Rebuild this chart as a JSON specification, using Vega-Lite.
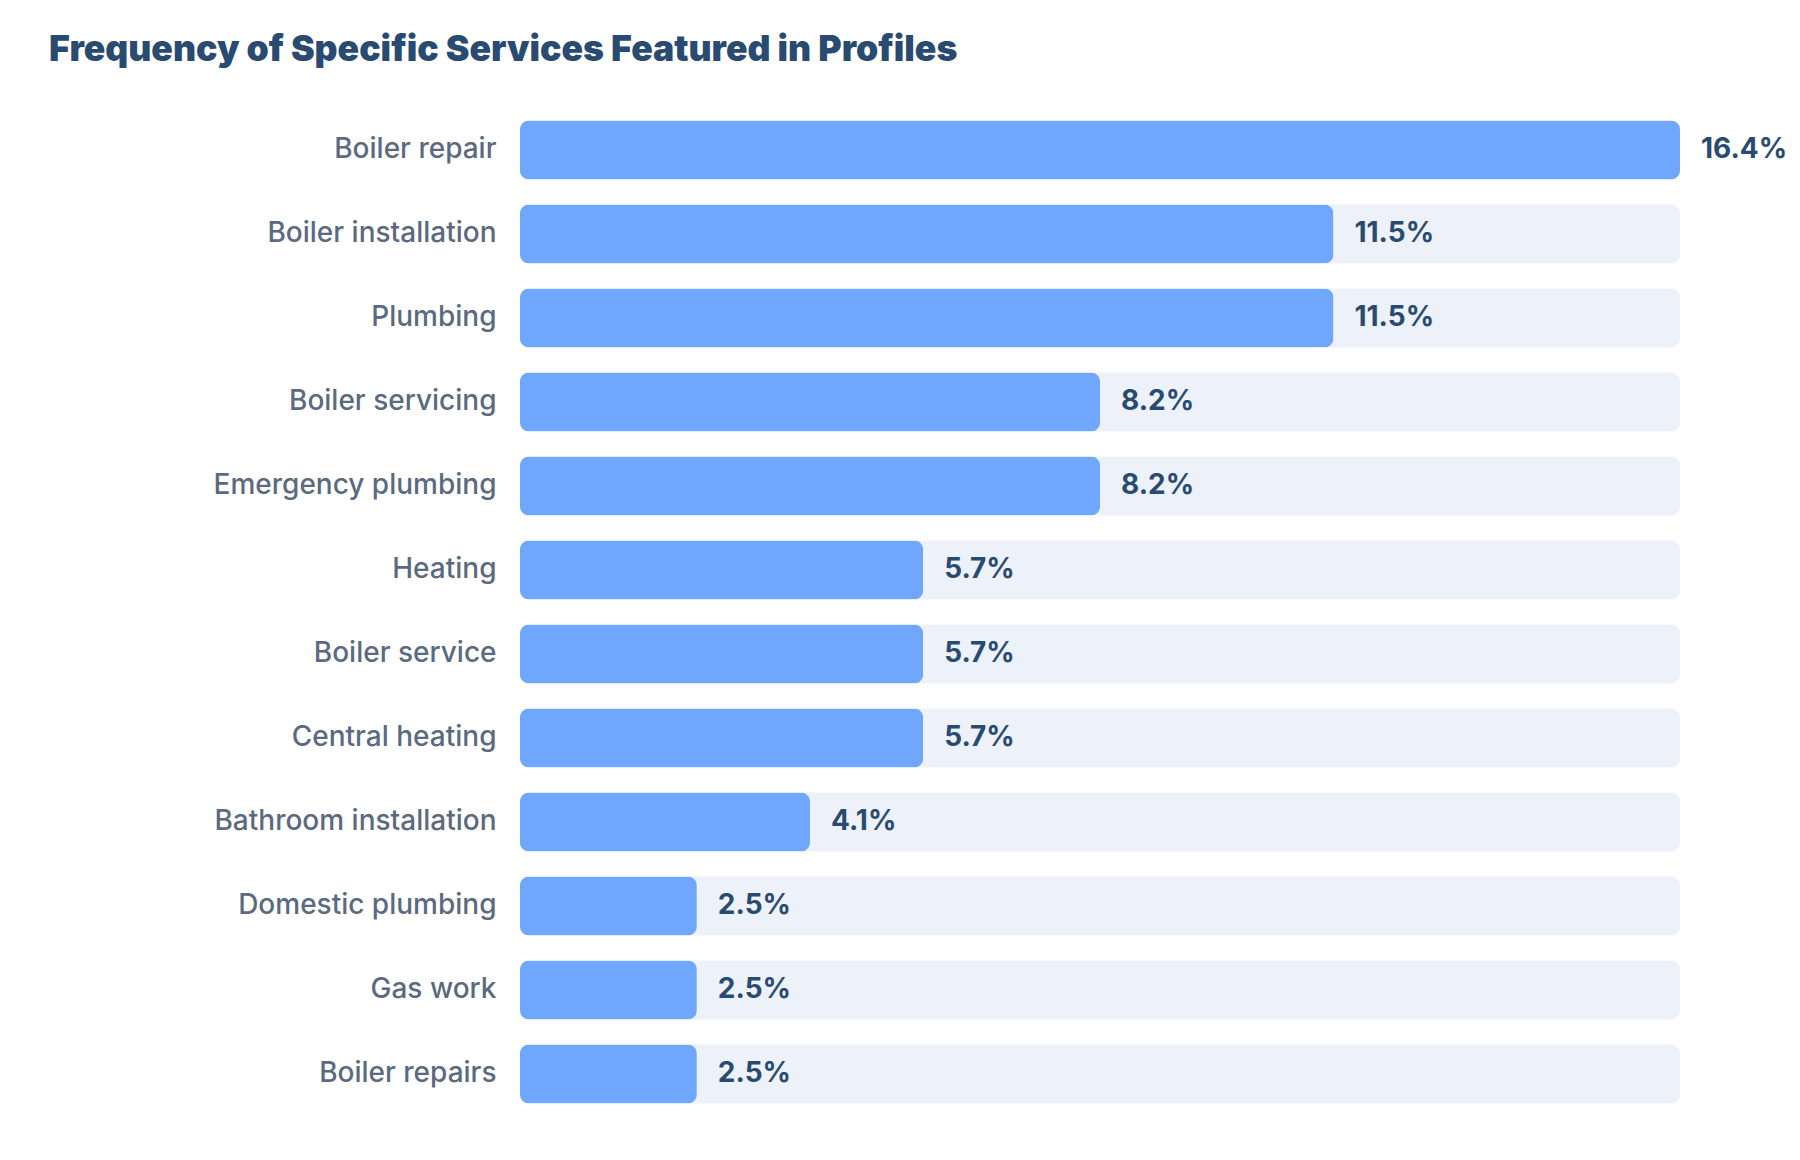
{
  "$schema": "https://vega.github.io/schema/vega-lite/v6.json",
  "autosize": {"type": "none"},
  "width": 1160,
  "height": 1008,
  "padding": {"left": 520, "top": 108, "right": 120, "bottom": 44},
  "background": "white",
  "config": {"view": {"stroke": null}, "font": "Inter"},
  "title": {
    "text": "Frequency of Specific Services Featured in Profiles",
    "anchor": "start",
    "frame": "group",
    "dx": -471,
    "offset": 39,
    "font": "Inter",
    "fontSize": 35.6,
    "fontWeight": 900,
    "color": "#2a4b71"
  },
  "data": {
    "values": [
      {"service": "Boiler repair", "share": 0.164},
      {"service": "Boiler installation", "share": 0.115},
      {"service": "Plumbing", "share": 0.115},
      {"service": "Boiler servicing", "share": 0.082},
      {"service": "Emergency plumbing", "share": 0.082},
      {"service": "Heating", "share": 0.057},
      {"service": "Boiler service", "share": 0.057},
      {"service": "Central heating", "share": 0.057},
      {"service": "Bathroom installation", "share": 0.041},
      {"service": "Domestic plumbing", "share": 0.025},
      {"service": "Gas work", "share": 0.025},
      {"service": "Boiler repairs", "share": 0.025}
    ]
  },
  "encoding": {
    "y": {
      "field": "service",
      "type": "nominal",
      "sort": null,
      "scale": {"paddingInner": 0.3, "paddingOuter": 0.15},
      "axis": {
        "title": null,
        "domain": false,
        "ticks": false,
        "labelPadding": 24,
        "labelFontSize": 28,
        "labelFont": "Inter",
        "labelFontWeight": 500,
        "labelColor": "#5b6a7f",
        "labelLimit": 500
      }
    }
  },
  "layer": [
    {
      "mark": {"type": "bar", "color": "#edf2fa", "cornerRadius": 9},
      "encoding": {
        "x": {"datum": 0.164, "type": "quantitative", "scale": {"domain": [0, 0.164]}, "axis": null}
      }
    },
    {
      "mark": {"type": "bar", "color": "#6ea7fd", "cornerRadius": 9},
      "encoding": {
        "x": {"field": "share", "type": "quantitative", "scale": {"domain": [0, 0.164]}, "axis": null}
      }
    },
    {
      "mark": {"type": "text", "align": "left", "baseline": "middle", "dx": 21, "font": "Inter", "fontSize": 28, "fontWeight": 700, "color": "#2a4b71"},
      "encoding": {
        "x": {"field": "share", "type": "quantitative", "scale": {"domain": [0, 0.164]}, "axis": null},
        "text": {"field": "share", "type": "quantitative", "format": ".1%"}
      }
    }
  ]
}
